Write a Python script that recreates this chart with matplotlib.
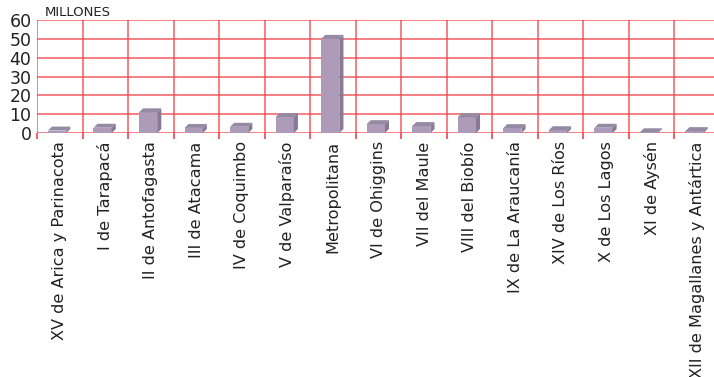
import matplotlib
matplotlib.use("Agg")
import matplotlib.pyplot as plt
from matplotlib.patches import Polygon
import numpy as np

categories = ["XV de Arica y Parinacota", "I de Tarapacá", "II de Antofagasta",
              "III de Atacama", "IV de Coquimbo", "V de Valparaíso", "Metropolitana",
              "VI de Ohiggins", "VII del Maule", "VIII del Biobío", "IX de La Araucanía",
              "XIV de Los Ríos", "X de Los Lagos", "XI de Aysén",
              "XII de Magallanes y Antártica"]
values = [1.3, 2.8, 11.0, 2.7, 3.3, 8.5, 50.0, 4.7, 3.7, 8.4, 2.6, 1.5, 2.8, 0.4, 1.0]
yticks = [0, 10, 20, 30, 40, 50, 60]

W, H = 714, 377
fig = plt.figure(figsize=(W / 100, H / 100), dpi=100)
left, right, bottom, top = 37, 720, 133, 20
ax = fig.add_axes([left / W, 1 - bottom / H, (right - left) / W, (bottom - top) / H])
n = len(categories)
ax.set_xlim(-0.5, n - 0.5)
ax.set_ylim(0, 60)

grid_c = "#F2424A"
for y in yticks:
    ax.axhline(y, color=grid_c, lw=1.2, alpha=0.8, zorder=1)
for b in np.arange(-0.5, n, 1.0):
    ax.axvline(b, color=grid_c, lw=1.2, alpha=0.8, zorder=1)

front_c = "#AE9BB9"
top_c = "#958AA3"
side_c = "#877A94"
x = np.arange(n)
x0 = x - 0.26
wid = 0.40
dx = 0.09
dy = 2.1
ax.bar(x0, values, width=wid, align="edge", color=front_c, zorder=3, lw=0)
for xi, v in zip(x0, values):
    topf = Polygon([(xi, v), (xi + dx, v + dy), (xi + wid + dx, v + dy), (xi + wid, v)],
                   closed=True, fc=top_c, ec="none", zorder=3)
    side = Polygon([(xi + wid, 0), (xi + wid + dx, dy), (xi + wid + dx, v + dy), (xi + wid, v)],
                   closed=True, fc=side_c, ec="none", zorder=3)
    ax.add_patch(topf)
    ax.add_patch(side)

for s in ax.spines.values():
    s.set_visible(False)

ax.set_yticks(yticks)
ax.set_yticklabels([str(t) for t in yticks], fontsize=12.5, color="#222222",
                   family=["DejaVu Sans"])
ax.tick_params(axis="y", length=0, pad=4)

ax.set_xticks(x)
ax.set_xticklabels(categories, rotation=90, fontsize=11.6, color="#222222",
                   family=["DejaVu Sans"], va="top", ha="center")
ax.tick_params(axis="x", length=0, pad=6)
ax.set_xticks(np.arange(-0.5, n, 1.0), minor=True)
ax.tick_params(axis="x", which="minor", length=4, color=grid_c, width=1.2)

fig.text(45 / W, 1 - 12 / H, "MILLONES", fontsize=9.5, color="#222222",
         va="center", ha="left", family=["DejaVu Sans"])

fig.savefig("out.png", dpi=100)
